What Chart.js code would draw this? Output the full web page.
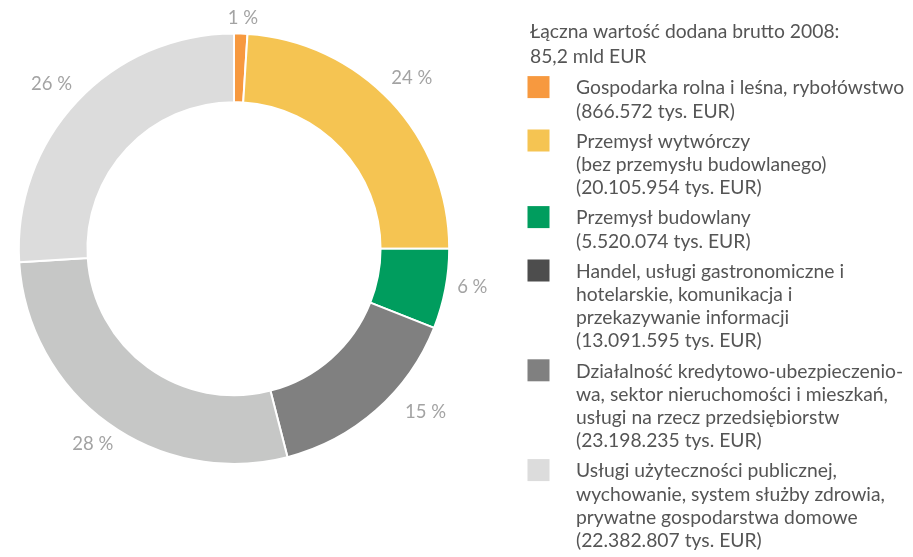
<!DOCTYPE html>
<html>
<head>
<meta charset="utf-8">
<script src="https://cdn.jsdelivr.net/npm/chart.js@4"></script>
<style>
  html, body { margin: 0; padding: 0; background: #ffffff; }
  #wrap { width: 913px; height: 557px; position: relative; }
</style>
</head>
<body>
<div id="wrap"><canvas id="chart" width="913" height="557"></canvas></div>
<script>
// ---- data ----
const categories = [
  ['Gospodarka rolna i leśna, rybołówstwo'],
  ['Przemysł wytwórczy', '(bez przemysłu budowlanego)'],
  ['Przemysł budowlany'],
  ['Handel, usługi gastronomiczne i', 'hotelarskie, komunikacja i', 'przekazywanie informacji'],
  ['Działalność kredytowo-ubezpieczenio-', 'wa, sektor nieruchomości i mieszkań,', 'usługi na rzecz przedsiębiorstw'],
  ['Usługi użyteczności publicznej,', 'wychowanie, system służby zdrowia,', 'prywatne gospodarstwa domowe']
];
const valuesTysEUR = [866572, 20105954, 5520074, 13091595, 23198235, 22382807];
const sharesPercent = [1, 24, 6, 15, 28, 26];
const titleLines = ['Łączna wartość dodana brutto 2008:', '85,2 mld EUR'];
const sliceColors = ['#f7993f', '#f5c452', '#009d5e', '#808080', '#c6c7c6', '#dcdcdc'];
const legendColors = ['#f7993f', '#f5c452', '#009d5e', '#4d4d4d', '#808080', '#dcdcdc'];

// ---- helpers ----
const fmtThousands = n => String(n).replace(/\B(?=(\d{3})+(?!\d))/g, '.');
const shareLabels = sharesPercent.map(v => v + ' %');
const legendItems = categories.map((lines, i) => lines.concat('(' + fmtThousands(valuesTysEUR[i]) + ' tys. EUR)'));

const FONT = 'Lato, "Open Sans", sans-serif';

const sliceLabelPlugin = {
  id: 'sliceLabels',
  afterDatasetsDraw(chart, args, o) {
    const ctx = chart.ctx;
    const meta = chart.getDatasetMeta(0);
    ctx.save();
    ctx.font = o.fontSize + 'px ' + FONT;
    ctx.fillStyle = o.color;
    ctx.textAlign = 'center';
    ctx.textBaseline = 'alphabetic';
    meta.data.forEach((arc, i) => {
      const p = arc.getProps(['x', 'y', 'startAngle', 'endAngle', 'outerRadius'], true);
      const a = (p.startAngle + p.endAngle) / 2 + (o.angleNudge[i] || 0) * Math.PI / 180;
      const r = p.outerRadius + o.offset + (o.radiusNudge[i] || 0);
      ctx.fillText(shareLabels[i], p.x + r * Math.cos(a), p.y + r * Math.sin(a) + o.baselineShift);
    });
    ctx.restore();
  }
};

const sideLegendPlugin = {
  id: 'sideLegend',
  afterDraw(chart, args, o) {
    const ctx = chart.ctx;
    ctx.save();
    ctx.font = o.fontSize + 'px ' + FONT;
    ctx.textAlign = 'left';
    ctx.textBaseline = 'alphabetic';
    ctx.fillStyle = o.color;
    titleLines.forEach((t, i) => ctx.fillText(t, o.titleX, o.titleBaseline + i * o.titleLineHeight));
    let y = o.firstBaseline;
    legendItems.forEach((lines, i) => {
      ctx.fillStyle = legendColors[i];
      ctx.fillRect(o.boxX, y - o.capCenter - o.boxSize / 2, o.boxSize, o.boxSize);
      ctx.fillStyle = o.color;
      lines.forEach((l, j) => ctx.fillText(l, o.textX, y + j * o.lineHeight));
      y += lines.length * o.lineHeight + o.itemGap;
    });
    ctx.restore();
  }
};

new Chart(document.getElementById('chart'), {
  type: 'doughnut',
  data: {
    labels: categories.map(c => c.join(' ')),
    datasets: [{
      data: sharesPercent,
      backgroundColor: sliceColors,
      borderColor: '#ffffff',
      borderWidth: 2,
      hoverOffset: 0
    }]
  },
  options: {
    responsive: false,
    animation: false,
    devicePixelRatio: 1,
    cutout: '68.1%',
    layout: { padding: { left: 17.8, right: 462.8, top: 32.5, bottom: 92.1 } },
    plugins: {
      legend: { display: false },
      tooltip: { enabled: false },
      sliceLabels: {
        fontSize: 18.5, color: '#a3a3a3', offset: 28, baselineShift: 7,
        angleNudge: [0.4, -0.8, -1.9, -8.3, 0, -1],
        radiusNudge: [-11, 4, -2, 8, -3, 3]
      },
      sideLegend: {
        fontSize: 19.3, color: '#555555',
        titleX: 530, titleBaseline: 37.5, titleLineHeight: 25.3,
        firstBaseline: 94.3, lineHeight: 23.2, itemGap: 7,
        boxX: 527.5, boxSize: 22, capCenter: 7.2, textX: 576
      }
    }
  },
  plugins: [sliceLabelPlugin, sideLegendPlugin]
});
</script>
</body>
</html>
